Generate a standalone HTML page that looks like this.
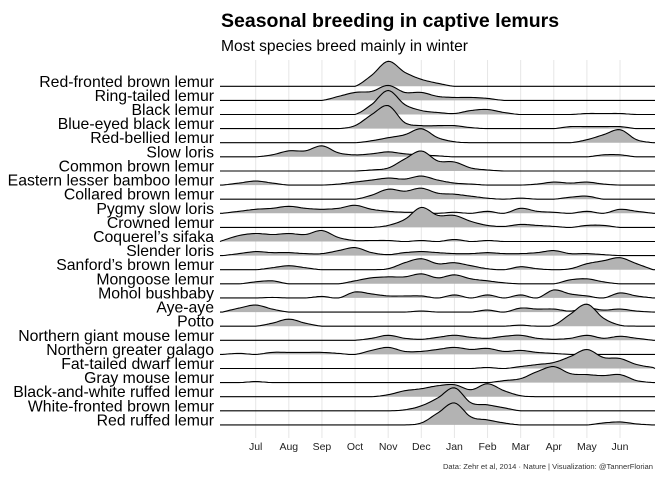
<!DOCTYPE html>
<html><head><meta charset="utf-8"><style>
body{margin:0;background:#fff;}
svg{display:block;font-family:"Liberation Sans",sans-serif;}
</style></head><body>
<svg id="c" width="672" height="480">
<text x="221" y="27" font-size="19.5" font-weight="bold" fill="#000">Seasonal breeding in captive lemurs</text>
<text x="221" y="51" font-size="15.6" fill="#000">Most species breed mainly in winter</text>
<g id="grid"></g><g id="ridges"></g><g id="labels"></g><g id="xt"></g>
<text x="653" y="469" font-size="7.6" text-anchor="end" fill="#333">Data: Zehr et al, 2014 · Nature | Visualization: @TannerFlorian</text>
</svg>
<script>
const species=["Red-fronted brown lemur","Ring-tailed lemur","Black lemur","Blue-eyed black lemur","Red-bellied lemur","Slow loris","Common brown lemur","Eastern lesser bamboo lemur","Collared brown lemur","Pygmy slow loris","Crowned lemur","Coquerel’s sifaka","Slender loris","Sanford’s brown lemur","Mongoose lemur","Mohol bushbaby","Aye-aye","Potto","Northern giant mouse lemur","Northern greater galago","Fat-tailed dwarf lemur","Gray mouse lemur","Black-and-white ruffed lemur","White-fronted brown lemur","Red ruffed lemur"];
const months=["Jul","Aug","Sep","Oct","Nov","Dec","Jan","Feb","Mar","Apr","May","Jun"];
// densities sampled every half month from month index -1 to 12 (27 samples)
const d0=[0,0,0,0,0,0,0,0,0,11,25,14,7,3,0,0,0,0,0,0,0,0,0,0,0,0,0];
const d1=[0,0,0,0,0,0,0,4,8,9,15,8,8,4,3,3,2,0,0,0,0,0,0,0,0,0,0];
const d2=[0,0,0,0,0,0,0,0,0,10,24,10,4,2,1,4,5,2,0,0,0,0,1,1,1,0,0];
const d3=[0,0,0,0,0,0,0,0,3,14,23,6,3,3,3,1,0,0,0,0,0,2,2,2,2,0,0];
const d4=[0,0,0,0,0,0,0,0,0,2,5,8,14,5,1,0,0,0,0,0,0,0,3,8,13,3,0];
const d5=[0,0,0,2,6,6,11,4,2,3,5,3,2,1,0,0,0,0,0,0,0,0,0,2,2,0,0];
const d6=[0,0,0,0,0,0,0,0,0,1,3,12,20,10,9,3,1,0,0,0,0,0,0,0,0,0,0];
const d7=[0,2,4,2,0,0,0,1,3,5,7,6,9,5,2,1,0,0,0,1,3,2,3,1,0,0,0];
const d8=[0,0,0,0,0,0,0,0,0,4,10,8,11,6,5,3,1,0,1,0,0,2,3,0,0,0,0];
const d9=[0,2,4,5,7,5,4,5,8,4,2,1,1,0,1,0,2,0,5,2,1,0,2,0,4,2,0];
const d10=[0,0,0,0,0,0,0,0,0,0,2,8,20,12,12,6,2,1,3,2,1,0,2,2,0,0,0];
const d11=[1,6,8,7,8,7,11,4,1,1,1,0,1,0,2,0,1,0,0,0,0,0,0,0,0,0,0];
const d12=[0,2,4,3,3,2,2,5,8,3,1,3,4,3,2,2,3,2,2,3,5,2,2,1,0,0,0];
const d13=[0,0,0,2,4,2,0,0,0,0,1,7,11,6,7,4,1,0,3,1,0,1,6,9,12,6,0];
const d14=[0,0,2,3,0,0,0,0,3,6,7,7,10,6,9,5,3,1,0,0,0,4,5,2,0,0,0];
const d15=[0,0,0,0.5,0,0,1.5,0,6,4,2,2,2,0,3,0,3,0,3,0,8,4,2,0,5,2,0];
const d16=[0,4,7,3,0,0,0,0,0,0,0,0,1,0,0,0,2,0,4,3,3,1,4,2,3,1,0];
const d17=[0,0,0,3,7,3,0,0,0,0,0,0,0,0,0,0,0,0,1,0,1,12,22,8,1,0,0];
const d18=[0,0,0,0,0,0,0,0,0,2,5,2,1,3,5,3,2,4,5,2,1,2,5,2,4,2,0];
const d19=[0,1,0,2,2,2,2,1,0,4,7,3,3,5,7,5,6,3,4,2,1,0,0,0,0,0,0];
const d20=[0,0,0,0,0,0,0,0,0,0,0,0,0,0,0,0,1,0,2,4,6,12,19,11,10,4,1];
const d21=[0,0,1,0,0,0,0,0,0,0,0,0,0,0,0,0,0,2,4,11,16,9,8,7,8,2,0];
const d22=[0,0,0,0,0,0,0,0,0,0,2,6,8,11,12,7,13,6,1,0,0,0,0,0,0,0,0];
const d23=[0,0,0,0,0,0,0,0,0,0,0,1,5,13,23,8,6,3,0,0,0,0,0,0,0,0,0];
const d24=[0,0,0,0,0,0,0,0,0,0,0,0,2,12,22,8,5,2,0,0,0,0,0,2,3,1,0];
const densities=[d0,d1,d2,d3,d4,d5,d6,d7,d8,d9,d10,d11,d12,d13,d14,d15,d16,d17,d18,d19,d20,d21,d22,d23,d24];

const NS="http://www.w3.org/2000/svg";
const x=m=>255.7+m*33.12;
const base=i=>86.3+i*14.11;
const h=v=>v*1.0;
function mk(t,a,p){const e=document.createElementNS(NS,t);for(const k in a)e.setAttribute(k,a[k]);p.appendChild(e);return e;}
const grid=document.getElementById('grid');
months.forEach((m,i)=>{
  const g=mk('line',{x1:x(i),x2:x(i),y1:60,y2:438,stroke:'#e6e6e6','stroke-width':1},grid);
  
  
  const t=mk('text',{x:x(i),y:450,'font-size':10.5,'text-anchor':'middle',fill:'#222'},document.getElementById('xt'));
  t.textContent=m;
  
  
});
const rg=document.getElementById('ridges'),lg=document.getElementById('labels');
species.forEach((s,i)=>{
  const b=base(i),vals=densities[i];
  const pts=vals.map((v,k)=>[x(-1+k*0.5),b-h(v)]);
  let line=[[220,b]];
  for(let k=0;k<pts.length-1;k++){
    const p0=pts[Math.max(0,k-1)],p1=pts[k],p2=pts[k+1],p3=pts[Math.min(pts.length-1,k+2)];
    for(let s2=0;s2<8;s2++){const t=s2/8,t2=t*t,t3=t2*t;
      const f=(a,b2,c,d)=>0.5*((2*b2)+(-a+c)*t+(2*a-5*b2+4*c-d)*t2+(-a+3*b2-3*c+d)*t3);
      let yy=f(p0[1],p1[1],p2[1],p3[1]);if(yy>b)yy=b;
      line.push([f(p0[0],p1[0],p2[0],p3[0]),yy]);}
  }
  line.push(pts[pts.length-1]);line.push([655,b]);
  const dstr=line.map((p,j)=>(j?'L':'M')+p[0].toFixed(1)+','+p[1].toFixed(1)).join('');
  const g=mk('g',{},rg);
  
  
  mk('path',{d:dstr+'Z',fill:'#b3b3b3',stroke:'none'},g);
  mk('path',{d:dstr,fill:'none',stroke:'#000','stroke-width':1.1},g);
  const t=mk('text',{x:214,y:b+0.5,'font-size':15.8,'text-anchor':'end',fill:'#000'},lg);
  t.textContent=s;
  
  
});
</script>
</body></html>
